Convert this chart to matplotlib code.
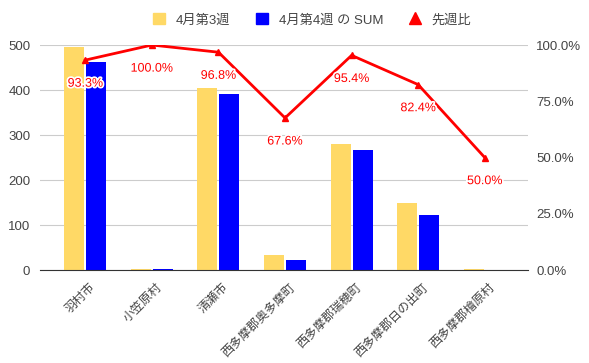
import matplotlib
matplotlib.use("Agg")
from matplotlib import pyplot as plt
from matplotlib.lines import Line2D
from matplotlib.patches import Patch
import matplotlib.patheffects as pe
import matplotlib.transforms as mtransforms
import numpy as np

plt.rcParams['font.family'] = ['Liberation Sans', 'Noto Sans CJK JP', 'DejaVu Sans']

# data
towns = ["羽村市", "小笠原村", "清瀬市", "西多摩郡奥多摩町", "西多摩郡瑞穂町", "西多摩郡日の出町", "西多摩郡檜原村"]
week3 = [495, 2, 404, 34, 280, 148, 2]
week4 = [462, 2, 391, 23, 267, 122, 1]
ratio = [0.933, 1.0, 0.968, 0.676, 0.954, 0.824, 0.50]
ratio_labels = ["93.3%", "100.0%", "96.8%", "67.6%", "95.4%", "82.4%", "50.0%"]

yellow = "#ffd966"
blue = "#0000ff"
red = "#ff0000"
grey = "#444444"


def main():
    fig = plt.figure(figsize=(5.89, 3.63), dpi=100)
    ax = fig.add_axes([0.068, 0.256, 0.8285, 0.62])
    x = np.arange(len(towns))
    w = 0.3

    ax.bar(x - 0.165, week3, w, color=yellow, zorder=2)
    ax.bar(x + 0.165, week4, w, color=blue, zorder=2)
    ax.set_xlim(-0.68, len(towns) - 0.35)
    ax.set_ylim(0, 500)
    ax.set_yticks(range(0, 501, 100))
    ax.grid(axis="y", color="#cccccc", linewidth=0.8, zorder=0)
    for s in ["top", "right", "left"]:
        ax.spines[s].set_visible(False)
    ax.spines["bottom"].set_color("#333333")
    ax.tick_params(axis="y", length=0, labelsize=9.5, colors=grey, pad=7)
    ax.tick_params(axis="x", length=0, labelsize=8.8, colors=grey, pad=8)
    ax.set_xticks(x)
    ax.set_xticklabels(towns, rotation=45, ha="right", rotation_mode="anchor")
    shift = mtransforms.ScaledTranslation(4 / 100, 0, fig.dpi_scale_trans)
    for lab in ax.get_xticklabels():
        lab.set_transform(lab.get_transform() + shift)

    # ratio line on right axis
    ax2 = ax.twinx()
    ax2.plot(x, ratio, color=red, linewidth=2, marker="^", markersize=5, zorder=3)
    ax2.set_ylim(0, 1)
    ax2.set_yticks([0, 0.25, 0.5, 0.75, 1.0])
    ax2.set_yticklabels(["0.0%", "25.0%", "50.0%", "75.0%", "100.0%"])
    for s in ["top", "right", "left", "bottom"]:
        ax2.spines[s].set_visible(False)
    ax2.tick_params(axis="y", length=0, labelsize=9.5, colors=grey, pad=6)
    for xi, r, lab in zip(x, ratio, ratio_labels):
        ax2.annotate(lab, (xi, r), xytext=(0, -17), textcoords="offset points",
                     ha="center", va="center", color=red, fontsize=9,
                     path_effects=[pe.withStroke(linewidth=2.5, foreground="white")])

    handles = [Patch(color=yellow), Patch(color=blue),
               Line2D([], [], color=red, marker="^", linestyle="none", markersize=8)]
    fig.legend(handles, ["4月第3週", "4月第4週 の SUM", "先週比"], loc="center",
               bbox_to_anchor=(0.53, 0.945), ncol=3, frameon=False, fontsize=9.5,
               handlelength=0.9, handleheight=0.9, handletextpad=0.8, columnspacing=2.0,
               labelcolor=grey)

    fig.savefig("out.png", dpi=100)


if __name__ == '__main__':
    main()
